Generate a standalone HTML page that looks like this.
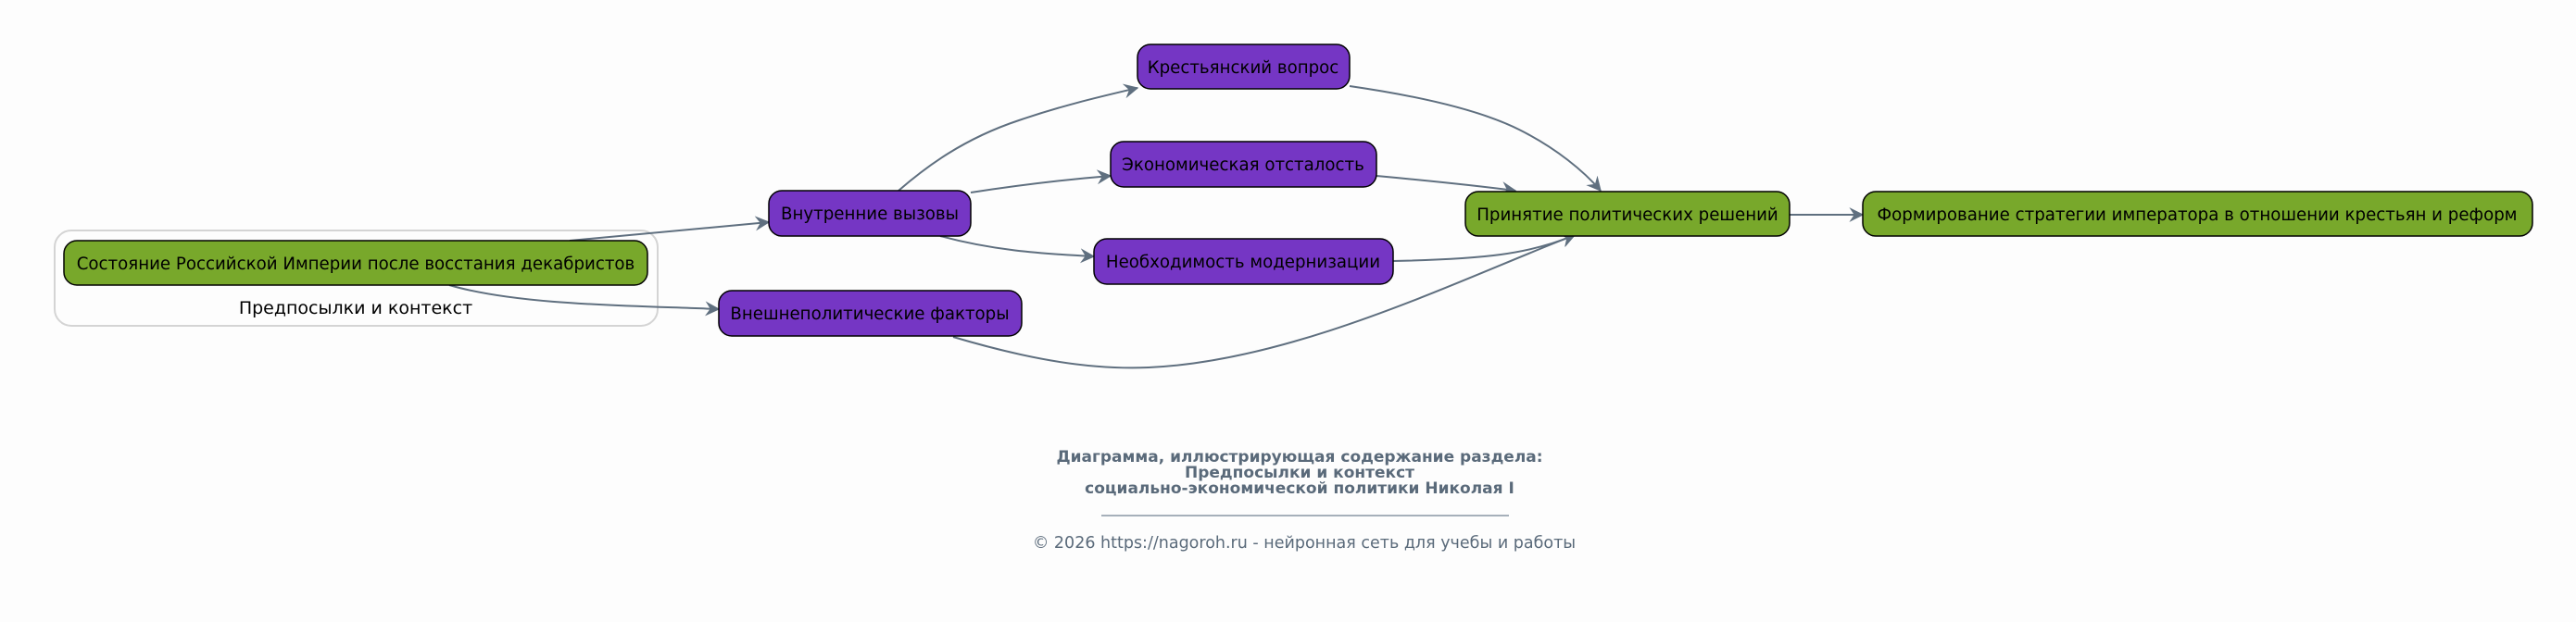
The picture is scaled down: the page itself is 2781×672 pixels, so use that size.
<!DOCTYPE html>
<html><head><meta charset="utf-8"><style>
html,body{margin:0;padding:0;background:#fdfdfd;}
svg{display:block;font-family:"DejaVu Sans","Liberation Sans",sans-serif;}
</style></head><body>
<svg width="2781" height="672" viewBox="0 0 2781 672" xmlns="http://www.w3.org/2000/svg">
<defs>
<marker id="a" viewBox="0 0 12 12" refX="11" refY="6" markerWidth="16" markerHeight="16" markerUnits="userSpaceOnUse" orient="auto">
<path d="M0,0 L12,6 L0,12 L4,6 z" fill="#5f6f7f"/>
</marker>
</defs>
<rect width="2781" height="672" fill="#fdfdfd"/>
<rect x="59" y="249" width="651" height="103" rx="18" fill="none" stroke="#d4d4d4" stroke-width="2"/>
<text x="384" y="339" font-size="19" text-anchor="middle" fill="#000">Предпосылки и контекст</text>

<g fill="none" stroke="#5f6f7f" stroke-width="2" marker-end="url(#a)">
<path d="M615,260 L830,240"/>
<path d="M485,308 C560,330 680,330 776,334"/>
<path d="M970,206 C1000,180 1040,150 1100,130 C1150,113 1190,104 1228,95"/>
<path d="M1048,208 C1100,200 1150,194 1199,190"/>
<path d="M1015,255 C1070,270 1120,274 1181,277"/>
<path d="M1457,93 C1540,105 1600,120 1640,140 C1680,160 1710,185 1728,206"/>
<path d="M1486,190 C1540,195 1590,200 1636,206"/>
<path d="M1504,282 C1600,280 1650,275 1700,254"/>
<path d="M1029,364 C1100,385 1170,400 1240,397 C1400,390 1580,300 1700,254"/>
<path d="M1932,232 L2011,232"/>
</g>

<g stroke="#000" stroke-width="1.5">
<rect x="69" y="260" width="630" height="48" rx="14" fill="#78a82b"/>
<rect x="830" y="206" width="218" height="49" rx="14" fill="#7536c4"/>
<rect x="776" y="314" width="327" height="49" rx="14" fill="#7536c4"/>
<rect x="1228" y="48" width="229" height="48" rx="14" fill="#7536c4"/>
<rect x="1199" y="153" width="287" height="49" rx="14" fill="#7536c4"/>
<rect x="1181" y="258" width="323" height="49" rx="14" fill="#7536c4"/>
<rect x="1582" y="207" width="350" height="48" rx="14" fill="#78a82b"/>
<rect x="2011" y="207" width="723" height="48" rx="14" fill="#78a82b"/>
</g>
<g font-size="18.2" text-anchor="middle" fill="#000">
<text x="384" y="291">Состояние Российской Империи после восстания декабристов</text>
<text x="939" y="237">Внутренние вызовы</text>
<text x="939" y="345">Внешнеполитические факторы</text>
<text x="1342" y="79">Крестьянский вопрос</text>
<text x="1342" y="184">Экономическая отсталость</text>
<text x="1342" y="289">Необходимость модернизации</text>
<text x="1757" y="238">Принятие политических решений</text>
<text x="2372" y="238">Формирование стратегии императора в отношении крестьян и реформ</text>
</g>

<g font-size="17" font-weight="bold" text-anchor="middle" fill="#5a6a7a">
<text x="1403" y="499">Диаграмма, иллюстрирующая содержание раздела:</text>
<text x="1403" y="516">Предпосылки и контекст</text>
<text x="1403" y="533">социально-экономической политики Николая I</text>
</g>
<line x1="1189" y1="557" x2="1629" y2="557" stroke="#8a96a3" stroke-width="1.5"/>
<text x="1408" y="592" font-size="17.5" text-anchor="middle" fill="#5a6a7a">© 2026 https://nagoroh.ru - нейронная сеть для учебы и работы</text>
</svg>
</body></html>
